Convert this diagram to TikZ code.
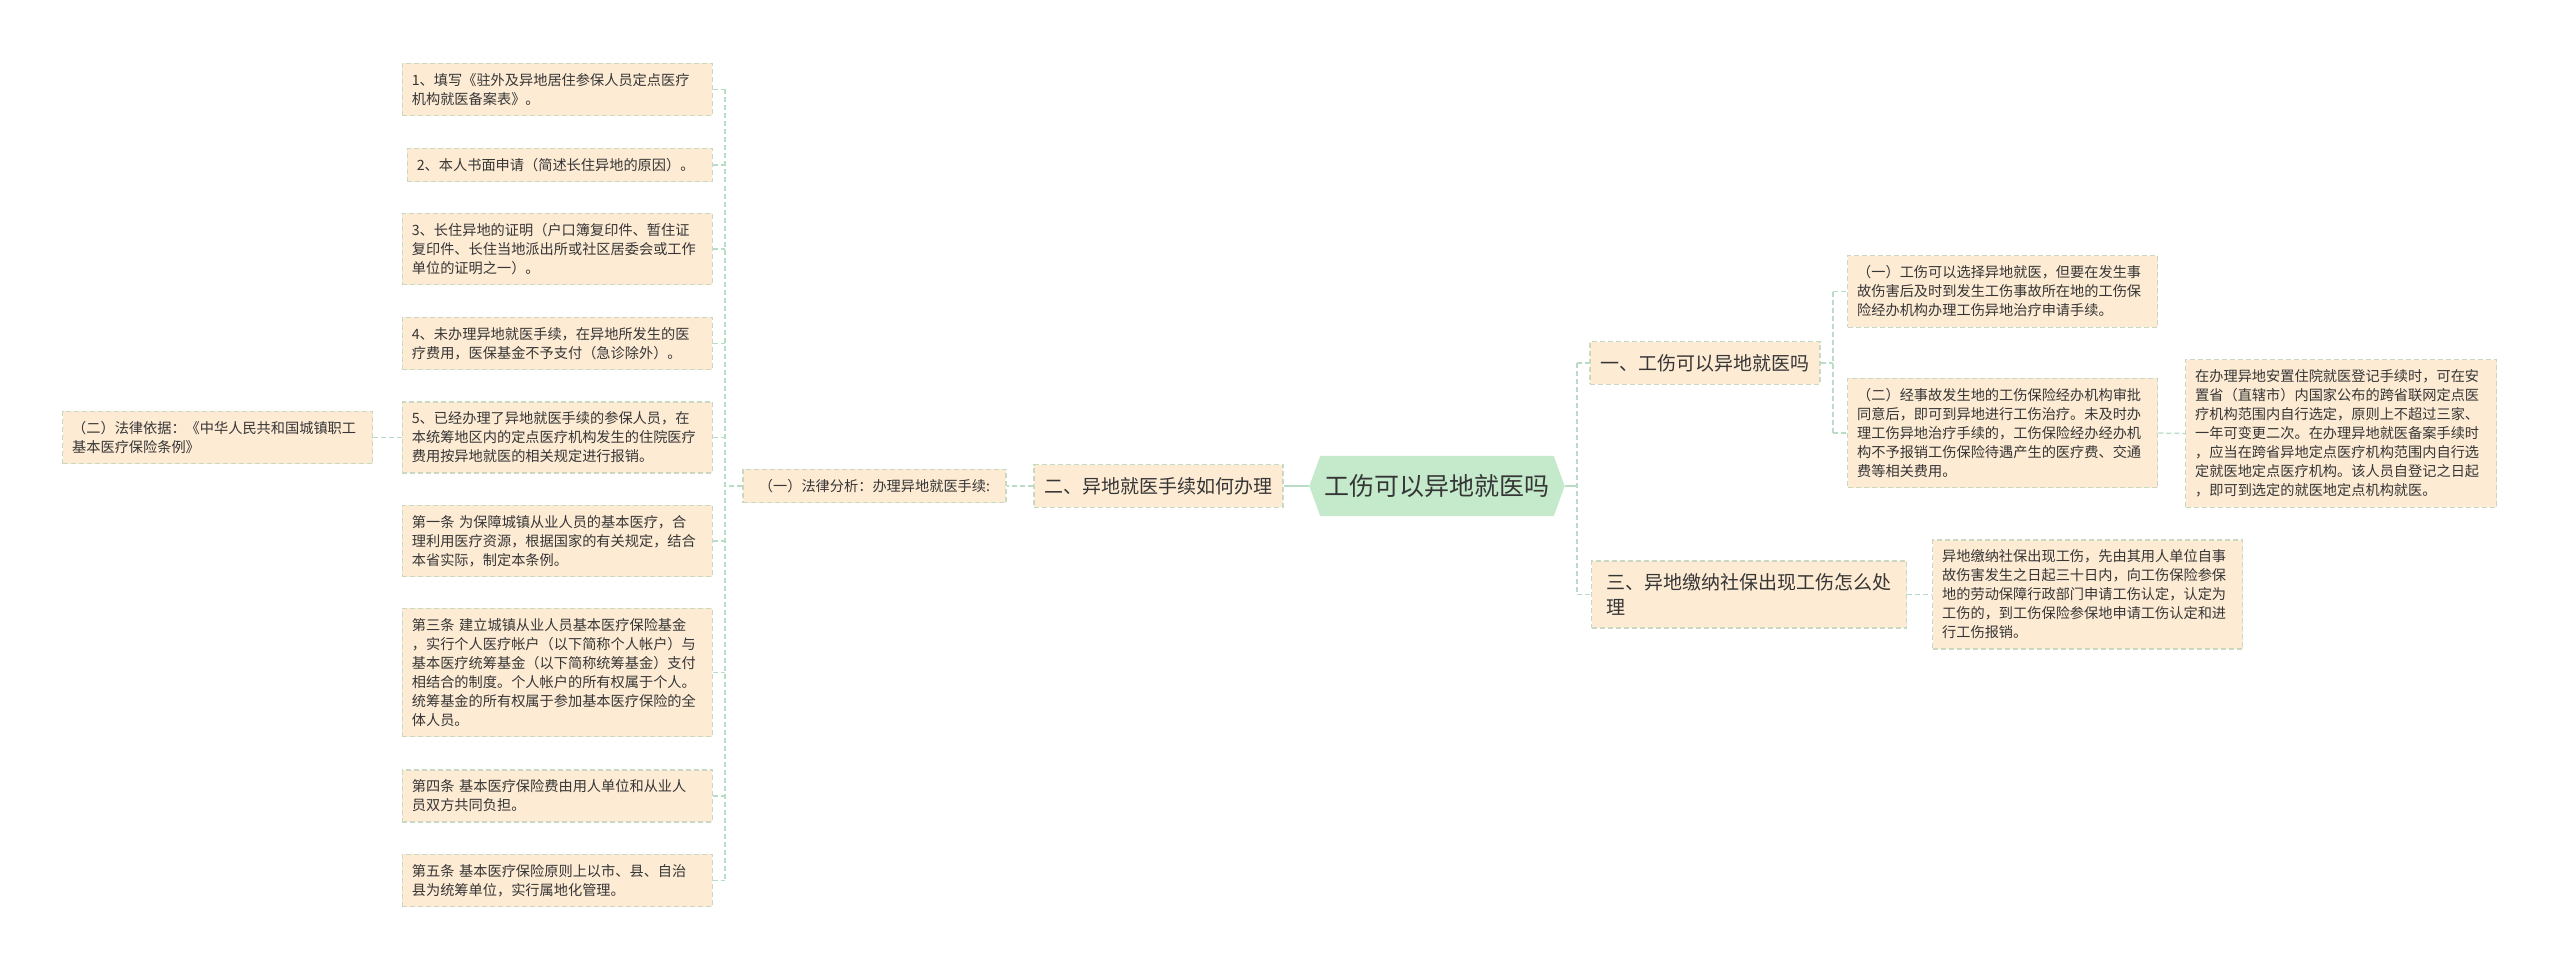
\documentclass[tikz,border=0pt]{standalone}
\usepackage{fontspec}
\setmainfont{Noto Sans CJK SC}
\usetikzlibrary{backgrounds}

\definecolor{boxfill}{HTML}{FDEBD4}
\definecolor{boxline}{HTML}{C9D9C1}
\definecolor{linkgreen}{HTML}{B9DCC4}
\definecolor{rootfill}{HTML}{C4EACB}
\definecolor{txtgray}{HTML}{363636}

\begin{document}
\begin{tikzpicture}[
  x=1pt,y=-1pt,
  leaf/.style={draw=boxline,fill=boxfill,dash pattern=on 5pt off 3pt,line width=1.3pt,inner xsep=9.5pt,inner ysep=10pt,text width=#1,align=left,text=txtgray,font=\fontsize{14.2}{19}\selectfont},
  leaf/.default=291pt,
  midbox/.style={draw=boxline,fill=boxfill,dash pattern=on 5pt off 3pt,line width=1.3pt,inner xsep=16pt,inner ysep=10pt,text=txtgray,font=\fontsize{14.2}{19}\selectfont},
  topic/.style={draw=boxline,fill=boxfill,dash pattern=on 5pt off 3pt,line width=1.3pt,inner xsep=10.5pt,inner ysep=12.5pt,align=left,text=txtgray,font=\fontsize{19}{25}\selectfont},
  rootbox/.style={minimum width=255pt,minimum height=60pt,inner sep=0pt,text=txtgray,font=\fontsize{25}{30}\selectfont},
  link/.style={draw=linkgreen,line width=1.3pt,dash pattern=on 5pt off 3pt},
  rootlink/.style={draw=linkgreen,line width=1.6pt}
]
\useasboundingbox (0,0) rectangle (2560,971);
\begin{scope}[on background layer]
  \fill[white] (0,0) rectangle (2560,971);
\end{scope}

% centre
\node[rootbox] (root) at (1437,486) {工伤可以异地就医吗};
\begin{scope}[on background layer]
  \fill[rootfill] (root.west) -- ([xshift=11pt]root.north west) -- ([xshift=-11pt]root.north east)
    -- (root.east) -- ([xshift=-11pt]root.south east) -- ([xshift=11pt]root.south west) -- cycle;
\end{scope}

% left branch
\node[topic] (two) at (1158.5,486) {二、异地就医手续如何办理};
\node[midbox] (fenxi) at (874.5,486) {（一）法律分析：办理异地就医手续:};

\foreach \i/\y/\w/\t in {
  1/89.5/291/{1、填写《驻外及异地居住参保人员定点医疗\\机构就医备案表》。},
  2/165/286/{2、本人书面申请（简述长住异地的原因）。},
  3/249/291/{3、长住异地的证明（户口簿复印件、暂住证\\复印件、长住当地派出所或社区居委会或工作\\单位的证明之一）。},
  4/343.5/291/{4、未办理异地就医手续，在异地所发生的医\\疗费用，医保基金不予支付（急诊除外）。},
  5/437.5/291/{5、已经办理了异地就医手续的参保人员，在\\本统筹地区内的定点医疗机构发生的住院医疗\\费用按异地就医的相关规定进行报销。},
  6/541/291/{第一条 为保障城镇从业人员的基本医疗，合\\理利用医疗资源，根据国家的有关规定，结合\\本省实际，制定本条例。},
  7/672.5/291/{第三条 建立城镇从业人员基本医疗保险基金\\，实行个人医疗帐户（以下简称个人帐户）与\\基本医疗统筹基金（以下简称统筹基金）支付\\相结合的制度。个人帐户的所有权属于个人。\\统筹基金的所有权属于参加基本医疗保险的全\\体人员。},
  8/796/291/{第四条 基本医疗保险费由用人单位和从业人\\员双方共同负担。},
  9/880.5/291/{第五条 基本医疗保险原则上以市、县、自治\\县为统筹单位，实行属地化管理。}}{
  \node[leaf=\w pt,anchor=east] (lf\i) at (713,\y) {\t};
}
\node[leaf=291pt,anchor=west] (yiju) at (62,437.5) {（二）法律依据：《中华人民共和国城镇职工\\基本医疗保险条例》};

\coordinate (lbar) at (725,486);
\draw[rootlink] (root.west) -- (two.east);
\draw[link] (two.west) -- (fenxi.east);
\draw[link] (fenxi.west) -- (lbar);
\draw[link] (lf1.east -| lbar) -- (lf9.east -| lbar);
\foreach \i in {1,...,9}{
  \draw[link] (lf\i.east) -- (lf\i.east -| lbar);
}
\draw[link] (lf5.west) -- (yiju.east);

% right branch
\node[topic] (one) at (1705,363) {一、工伤可以异地就医吗};
\node[topic,anchor=west,inner xsep=15pt] (three) at (1591,594.5) {三、异地缴纳社保出现工伤怎么处\\理};
\node[leaf=291pt,anchor=west] (r1) at (1847,291.5) {（一）工伤可以选择异地就医，但要在发生事\\故伤害后及时到发生工伤事故所在地的工伤保\\险经办机构办理工伤异地治疗申请手续。};
\node[leaf=291pt,anchor=west] (r2) at (1847,433) {（二）经事故发生地的工伤保险经办机构审批\\同意后，即可到异地进行工伤治疗。未及时办\\理工伤异地治疗手续的，工伤保险经办经办机\\构不予报销工伤保险待遇产生的医疗费、交通\\费等相关费用。};
\node[leaf=292pt,anchor=west] (anzhi) at (2185,433.5) {在办理异地安置住院就医登记手续时，可在安\\置省（直辖市）内国家公布的跨省联网定点医\\疗机构范围内自行选定，原则上不超过三家、\\一年可变更二次。在办理异地就医备案手续时\\，应当在跨省异地定点医疗机构范围内自行选\\定就医地定点医疗机构。该人员自登记之日起\\，即可到选定的就医地定点机构就医。};
\node[leaf=291pt,anchor=west] (jiaona) at (1932,594.5) {异地缴纳社保出现工伤，先由其用人单位自事\\故伤害发生之日起三十日内，向工伤保险参保\\地的劳动保障行政部门申请工伤认定，认定为\\工伤的，到工伤保险参保地申请工伤认定和进\\行工伤报销。};

\coordinate (rbar) at (1577,486);
\coordinate (sbar) at (1833,363);
\draw[rootlink] (root.east) -- (rbar);
\draw[link] (one.west -| rbar) -- (three.west -| rbar);
\draw[link] (one.west -| rbar) -- (one.west);
\draw[link] (three.west -| rbar) -- (three.west);
\draw[link] (one.east) -- (sbar);
\draw[link] (r1.west -| sbar) -- (r2.west -| sbar);
\draw[link] (r1.west -| sbar) -- (r1.west);
\draw[link] (r2.west -| sbar) -- (r2.west);
\draw[link] (r2.east) -- (anzhi.west);
\draw[link] (three.east) -- (jiaona.west);

\end{tikzpicture}
\end{document}
